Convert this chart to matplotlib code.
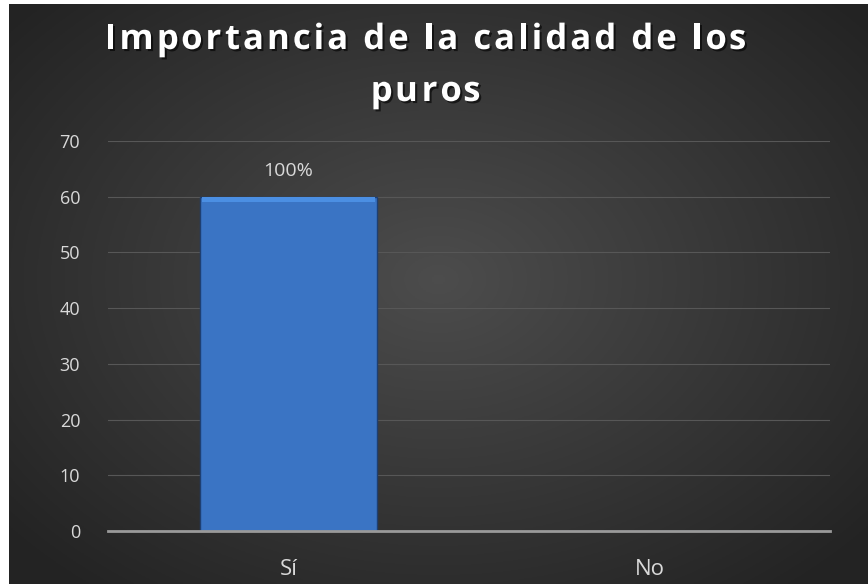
import numpy as np
import matplotlib; matplotlib.use("Agg")
import matplotlib.pyplot as plt
import matplotlib.patheffects as pe
from matplotlib.font_manager import FontProperties

categories = ["Sí", "No"]
values = [60, 0]
bar_labels = ["100%", ""]
title_lines = ["Importancia de la calidad de los", "puros"]
yticks = [0, 10, 20, 30, 40, 50, 60, 70]

plt.rcParams["font.family"] = ["Open Sans", "DejaVu Sans"]
W, H = 868, 584
fig = plt.figure(figsize=(W/100, H/100), dpi=100)
fig.patch.set_facecolor("white")

# dark radial background (thin white strip left/top like the screenshot)
bg = fig.add_axes([9/W, 0, (W-9)/W, (H-4)/H])
yy, xx = np.mgrid[-1:1:300j, -1:1:400j]
r = np.sqrt((xx*0.95)**2 + ((yy + 0.05)*0.9)**2)
g = np.clip(0.30 - 0.13*r, 0.14, 0.30)
bg.imshow(np.dstack([g, g, g]), aspect="auto", extent=[0, 1, 0, 1])
bg.set_axis_off()

ax = fig.add_axes([108/W, 53/H, 722/W, 390/H])
ax.patch.set_alpha(0)
x = np.arange(len(categories))
bars = ax.bar(x, values, width=0.49, color="#3A74C4", edgecolor="#1E3F72",
              linewidth=1.0, zorder=3)
# lighter bevel on top of the bar
for b, v in zip(bars, values):
    if v > 0:
        ax.bar(b.get_x() + b.get_width()/2, 1.0, bottom=v - 1.0,
               width=b.get_width()*0.98, color="#4B8FE3", linewidth=0, zorder=4)
for xi, v, lab in zip(x, values, bar_labels):
    if lab:
        ax.annotate(lab, (xi, v), xytext=(0, 12), textcoords="offset points",
                    ha="center", va="bottom", color="#D9D9D9", fontsize=14)

ax.set_xlim(-0.5, len(categories) - 0.5)
ax.set_ylim(0, 70)
ax.set_yticks(yticks)
ax.set_xticks(x)
ax.set_xticklabels(categories, fontsize=16, color="#D9D9D9")
ax.tick_params(axis="y", labelsize=13, labelcolor="#D9D9D9", length=0, pad=20)
ax.tick_params(axis="x", length=0, pad=20)
ax.grid(axis="y", color="#575757", linewidth=0.8, zorder=0)
for s in ["top", "right", "left"]:
    ax.spines[s].set_visible(False)
ax.spines["bottom"].set_color("#9A9A9A")
ax.spines["bottom"].set_linewidth(2)
ax.spines["bottom"].set_zorder(5)

# title with letter spacing, drawn char by char
renderer = fig.canvas.get_renderer()
tprop = FontProperties(family=["Open Sans", "DejaVu Sans"], weight="bold", size=25)
def textw(s):
    return renderer.get_text_width_height_descent(s + "x", tprop, ismath=False)[0] - \
        renderer.get_text_width_height_descent("x", tprop, ismath=False)[0]
first = title_lines[0]
track = (642 - textw(first)) / (len(first) - 1)
shadow = [pe.withSimplePatchShadow(offset=(1.5, -1.5), shadow_rgbFace="black", alpha=0.6)]
for line, base in zip(title_lines, [49, 101]):
    total = textw(line) + track*(len(line) - 1)
    x0 = 426 - total/2
    for i, ch in enumerate(line):
        if ch == " ":
            continue
        px = x0 + textw(line[:i]) + track*i
        fig.text(px/W, 1 - base/H, ch, ha="left", va="baseline", color="white",
                 fontproperties=tprop, path_effects=shadow)

fig.savefig("out.png", dpi=100)
